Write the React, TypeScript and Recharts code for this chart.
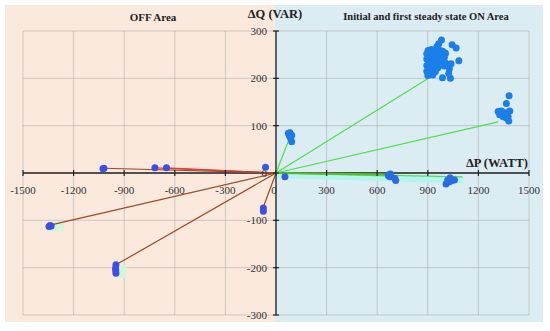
import React from "react";
import { ComposedChart, Scatter, XAxis, YAxis, CartesianGrid, ReferenceLine, ReferenceArea, ReferenceDot } from "recharts";

const W = 550;
const H = 331;
const M = { top: 31, right: 21, bottom: 15, left: 22 };
const PLOT_LEFT = M.left + 1;
const PLOT_BOTTOM = H - M.bottom - 1;
const ZERO_X = PLOT_LEFT + (W - PLOT_LEFT - M.right) / 2;
const ZERO_Y = M.top + (PLOT_BOTTOM - M.top) / 2;

const xTicks = [-1500, -1200, -900, -600, -300, 0, 300, 600, 900, 1200, 1500];
const yTicks = [-300, -200, -100, 0, 100, 200, 300];

// ON area clusters
const onCluster1 = [
  { x: 981, y: 281 }, { x: 965, y: 273 }, { x: 1044, y: 271 }, { x: 954, y: 267 }, { x: 1068, y: 264 },
  { x: 902, y: 259 }, { x: 921, y: 261 }, { x: 939, y: 258 }, { x: 968, y: 260 }, { x: 989, y: 257 },
  { x: 894, y: 252 }, { x: 914, y: 254 }, { x: 933, y: 251 }, { x: 959, y: 253 }, { x: 985, y: 250 }, { x: 1005, y: 253 },
  { x: 906, y: 247 }, { x: 930, y: 245 }, { x: 949, y: 248 }, { x: 973, y: 246 }, { x: 998, y: 244 },
  { x: 894, y: 241 }, { x: 920, y: 240 }, { x: 945, y: 242 }, { x: 969, y: 239 }, { x: 993, y: 241 },
  { x: 1084, y: 237 }, { x: 906, y: 234 }, { x: 933, y: 236 }, { x: 959, y: 233 }, { x: 985, y: 235 }, { x: 1008, y: 232 },
  { x: 1038, y: 231 }, { x: 894, y: 227 }, { x: 920, y: 229 }, { x: 949, y: 226 }, { x: 973, y: 228 }, { x: 998, y: 226 },
  { x: 906, y: 221 }, { x: 933, y: 220 }, { x: 959, y: 222 }, { x: 1028, y: 220 },
  { x: 894, y: 215 }, { x: 920, y: 216 }, { x: 945, y: 214 }, { x: 910, y: 210 }, { x: 1024, y: 210 },
  { x: 900, y: 206 }, { x: 930, y: 207 }, { x: 987, y: 201 }, { x: 1034, y: 200 },
];
const onCluster2 = [
  { x: 1382, y: 163 }, { x: 1366, y: 147 }, { x: 1317, y: 130 }, { x: 1337, y: 131 }, { x: 1356, y: 126 },
  { x: 1386, y: 131 }, { x: 1376, y: 119 }, { x: 1347, y: 119 }, { x: 1366, y: 116 }, { x: 1380, y: 110 },
  { x: 1326, y: 123 }, { x: 1372, y: 128 },
];
const onCluster3 = [
  { x: 83, y: 85 }, { x: 93, y: 80 }, { x: 87, y: 73 }, { x: 93, y: 66 }, { x: 73, y: 84 }, { x: 80, y: 78 },
];
const onCluster4 = [
  { x: 665, y: -4 }, { x: 679, y: -2 }, { x: 675, y: -8 }, { x: 704, y: -11 }, { x: 710, y: -16 }, { x: 668, y: -6 },
];
const onCluster5 = [
  { x: 1008, y: -23 }, { x: 1018, y: -15 }, { x: 1032, y: -10 }, { x: 1058, y: -15 }, { x: 1038, y: -17 }, { x: 1025, y: -19 },
];
const nearOrigin = [{ x: 53, y: -8 }, { x: -62, y: 12 }];

// OFF area clusters
const offPoints = [
  { x: -1020, y: 10 }, { x: -1026, y: 9 }, { x: -718, y: 11 }, { x: -649, y: 11 },
  { x: -1340, y: -111 }, { x: -1346, y: -113 }, { x: -1333, y: -112 },
  { x: -949, y: -194 }, { x: -951, y: -201 }, { x: -950, y: -206 }, { x: -949, y: -212 },
  { x: -75, y: -74 }, { x: -75, y: -81 },
];

// vectors from origin
const greenVectors = [
  { x: 935, y: 207 }, { x: 1317, y: 108 }, { x: 78, y: 72 }, { x: 650, y: -6 }, { x: 1106, y: -8 },
];
const darkGreenVectors = [{ x: 690, y: -3 }];
const redVectors = [{ x: -718, y: 11 }, { x: -649, y: 11 }];
const brownVectors = [
  { x: -1020, y: 10 }, { x: -1340, y: -110 }, { x: -949, y: -194 }, { x: -75, y: -72 },
];
const cyanBand = [{ x: 0, y: -3 }, { x: 1110, y: -15 }];
const greenPatches = [
  { x1: -1355, x2: -1256, y1: -124, y2: -103 },
  { x1: -968, x2: -885, y1: -222, y2: -194 },
];

const FONT = "'Liberation Serif', serif";

const Dot = (color: string) => (props: any) => (
  <circle cx={props.cx} cy={props.cy} r={3.5} fill={color} />
);

const renderXTick = (props: any) => {
  const { x, payload } = props;
  return (
    <g key={"xt" + payload.value}>
      <line x1={x} x2={x} y1={ZERO_Y - 3} y2={ZERO_Y + 3} stroke="#222" strokeWidth={1.2} />
      {payload.value !== 0 && (
        <text x={x} y={ZERO_Y + 17} textAnchor="middle" dominantBaseline="central" fontFamily={FONT} fontSize={11} fill="#333">
          {String(payload.value)}
        </text>
      )}
    </g>
  );
};

const renderYTick = (props: any) => {
  const { y, payload } = props;
  return (
    <g key={"yt" + payload.value}>
      <line x1={ZERO_X - 3} x2={ZERO_X + 3} y1={y} y2={y} stroke="#222" strokeWidth={1.2} />
      {payload.value !== 0 && (
        <text x={ZERO_X - 9} y={y} textAnchor="end" dominantBaseline="central" fontFamily={FONT} fontSize={11} fill="#333">
          {String(payload.value)}
        </text>
      )}
    </g>
  );
};

const ZeroLabels = (props: any) => (
  <g>
    <text x={props.cx - 9} y={props.cy} textAnchor="end" dominantBaseline="central" fontFamily={FONT} fontSize={11} fill="#333">0</text>
    <text x={props.cx - 2} y={props.cy + 17} textAnchor="middle" dominantBaseline="central" fontFamily={FONT} fontSize={11} fill="#333">0</text>
  </g>
);

export default function App() {
  return (
    <div style={{ position: "absolute", left: 0, top: 0, width: W, height: H, background: "#fff" }}>
      <div style={{ position: "absolute", left: 5, top: 5, width: 270, height: 317, background: "#fbe9de" }} />
      <div style={{ position: "absolute", left: 275, top: 5, width: 268, height: 317, background: "#dcecf3" }} />
      <div style={{ position: "absolute", left: 0, top: 0 }}>
        <ComposedChart width={W} height={H} margin={M}>
          <CartesianGrid stroke="#a0a0a0" strokeOpacity={0.6} strokeWidth={0.8} />
          <XAxis dataKey="x" type="number" domain={[-1500, 1500]} ticks={xTicks} interval={0} height={1}
            axisLine={false} tickLine={false} tick={renderXTick} />
          <YAxis dataKey="y" type="number" domain={[-300, 300]} ticks={yTicks} interval={0} width={1}
            axisLine={false} tickLine={false} tick={renderYTick} />
          {greenPatches.map((p, i) => (
            <ReferenceArea key={"gp" + i} x1={p.x1} x2={p.x2} y1={p.y1} y2={p.y2} fill="#d6f5d6" fillOpacity={1} stroke="none" />
          ))}
          <ReferenceLine segment={cyanBand} stroke="#b5f3ee" strokeWidth={7} />
          <ReferenceLine y={0} stroke="#222" strokeWidth={1.3} />
          <ReferenceLine x={0} stroke="#222" strokeWidth={1.3} />
          {greenVectors.map((p, i) => (
            <ReferenceLine key={"g" + i} segment={[{ x: 0, y: 0 }, p]} stroke="#4be04b" strokeWidth={1.2} />
          ))}
          {darkGreenVectors.map((p, i) => (
            <ReferenceLine key={"dg" + i} segment={[{ x: 0, y: 0 }, p]} stroke="#5cb82e" strokeWidth={2} />
          ))}
          {redVectors.map((p, i) => (
            <ReferenceLine key={"r" + i} segment={[{ x: 0, y: 0 }, p]} stroke="#ec3b3b" strokeWidth={1.2} />
          ))}
          {brownVectors.map((p, i) => (
            <ReferenceLine key={"b" + i} segment={[{ x: 0, y: 0 }, p]} stroke="#9a4a28" strokeWidth={1.2} />
          ))}
          <ReferenceDot x={0} y={0} r={1} shape={ZeroLabels} ifOverflow="visible" />
          <Scatter data={onCluster1} shape={Dot("#1a7fe8")} isAnimationActive={false} />
          <Scatter data={onCluster2} shape={Dot("#1a7fe8")} isAnimationActive={false} />
          <Scatter data={onCluster3} shape={Dot("#1f7ae6")} isAnimationActive={false} />
          <Scatter data={onCluster4} shape={Dot("#2a6be2")} isAnimationActive={false} />
          <Scatter data={onCluster5} shape={Dot("#2a6be2")} isAnimationActive={false} />
          <Scatter data={nearOrigin} shape={Dot("#2f5fe0")} isAnimationActive={false} />
          <Scatter data={offPoints} shape={Dot("#3d4fe0")} isAnimationActive={false} />
        </ComposedChart>
      </div>
      <div style={{ position: "absolute", left: 0, width: 306, top: 10, textAlign: "center", fontFamily: FONT, fontWeight: "bold", fontSize: 11, color: "#222", lineHeight: "14px" }}>
        OFF Area
      </div>
      <div style={{ position: "absolute", left: 320, width: 212, top: 10, textAlign: "center", fontFamily: FONT, fontWeight: "bold", fontSize: 10.5, color: "#222", lineHeight: "14px" }}>
        Initial and first steady state ON Area
      </div>
      <div style={{ position: "absolute", left: 225, width: 100, top: 6, textAlign: "center", fontFamily: FONT, fontWeight: "bold", fontSize: 12.5, color: "#222", lineHeight: "16px" }}>
        ΔQ (VAR)
      </div>
      <div style={{ position: "absolute", left: 428, width: 100, top: 155, textAlign: "right", fontFamily: FONT, fontWeight: "bold", fontSize: 12.5, color: "#222", lineHeight: "16px" }}>
        ΔP (WATT)
      </div>
    </div>
  );
}
